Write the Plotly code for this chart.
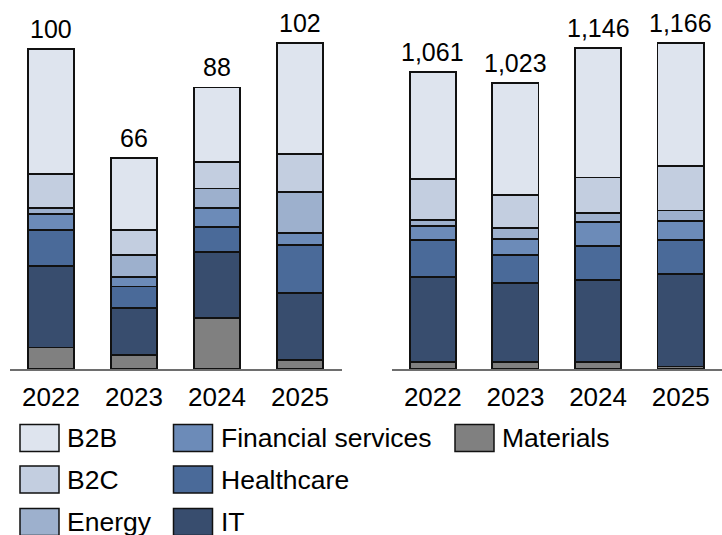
import plotly.graph_objects as go

# Years shown on both panels
years = ["2022", "2023", "2024", "2025"]

# Sector names, listed bottom-to-top of each stack
sectors = ["Materials", "IT", "Healthcare", "Financial services", "Energy", "B2C", "B2B"]

# Left panel: values by sector per year
left_materials = [6.7, 4.5, 16.0, 2.8]
left_it = [25.5, 14.5, 20.5, 21.0]
left_healthcare = [11.2, 6.8, 7.9, 14.9]
left_financial = [5.0, 2.9, 5.8, 3.7]
left_energy = [1.8, 7.0, 6.2, 12.8]
left_b2c = [10.7, 7.7, 8.4, 11.9]
left_b2b = [39.1, 22.6, 23.2, 34.9]

# Right panel: values by sector per year
right_materials = [25, 25, 25, 9]
right_it = [305, 282, 293, 331]
right_healthcare = [131, 101, 122, 121]
right_financial = [50, 56, 86, 68]
right_energy = [22, 41, 32, 37]
right_b2c = [145, 117, 126, 160]
right_b2b = [383, 401, 462, 440]

colors = {
    "B2B": "#dee4ee",
    "B2C": "#c3cee0",
    "Energy": "#9db0cd",
    "Financial services": "#6c8bb8",
    "Healthcare": "#4a6a99",
    "IT": "#384d6e",
    "Materials": "#808080",
}

left_series = [left_materials, left_it, left_healthcare, left_financial,
               left_energy, left_b2c, left_b2b]
right_series = [right_materials, right_it, right_healthcare, right_financial,
                right_energy, right_b2c, right_b2b]

W, H = 722, 535
FONT = "Liberation Sans, Arial, sans-serif"


def px_x(p):
    return p / W


def px_y(p):
    return 1 - p / H


fig = go.Figure()

for name, lv, rv in zip(sectors, left_series, right_series):
    for xa, ya, vals in (("x", "y", lv), ("x2", "y2", rv)):
        fig.add_trace(go.Bar(
            x=years, y=vals, xaxis=xa, yaxis=ya, name=name,
            width=[0.56] * len(years),
            marker=dict(color=colors[name], line=dict(color="#111111", width=1.8)),
            showlegend=False,
        ))

left_totals = [round(sum(v), 1) for v in zip(*left_series)]
right_totals = [round(sum(v), 1) for v in zip(*right_series)]

# Total labels above each stack (x given as category index)
for xref, yref, totals in (("x", "y", left_totals), ("x2", "y2", right_totals)):
    for idx, tot in enumerate(totals):
        fig.add_annotation(
            x=idx, y=tot, xref=xref, yref=yref,
            text=f"{tot:,.0f}", showarrow=False,
            xanchor="center", yanchor="bottom", yshift=4,
            font=dict(family=FONT, size=25, color="#000000"),
        )

# Headroom above the tallest stack
headroom = 1.1305
axis_common = dict(
    type="category", categoryorder="array", categoryarray=years,
    range=[-0.5, len(years) - 0.5], autorange=False,
    showgrid=False, zeroline=False, showline=True,
    linecolor="#6e6e6e", linewidth=1.5, ticks="",
    ticklabelstandoff=4,
    tickfont=dict(family=FONT, size=26, color="#000000"),
)
yaxis_common = dict(visible=False, showgrid=False, zeroline=False,
                    autorange=False, domain=[px_y(369), 1])

fig.update_layout(
    width=W, height=H, autosize=False,
    margin=dict(l=0, r=0, t=0, b=0),
    paper_bgcolor="white", plot_bgcolor="white",
    barmode="stack",
    font=dict(family=FONT, size=25, color="#000000"),
    xaxis=dict(domain=[px_x(9.5), px_x(341.5)], anchor="y", **axis_common),
    xaxis2=dict(domain=[px_x(391.5), 1.0], anchor="y2", **axis_common),
    yaxis=dict(range=[0, max(left_totals) * headroom], anchor="x", **yaxis_common),
    yaxis2=dict(range=[0, max(right_totals) * headroom], anchor="x2", **yaxis_common),
)

# Legend laid out in columns: swatch box + label
legend_columns = [
    (20, ["B2B", "B2C", "Energy"]),
    (173.5, ["Financial services", "Healthcare", "IT"]),
    (455, ["Materials"]),
]
row_tops = [424.5, 466, 508.5]
sw_w, sw_h = 39, 27
for left_px, names in legend_columns:
    for name, top in zip(names, row_tops):
        fig.add_shape(
            type="rect", xref="paper", yref="paper",
            x0=px_x(left_px), x1=px_x(left_px + sw_w),
            y0=px_y(top + sw_h), y1=px_y(top),
            fillcolor=colors[name], line=dict(color="#111111", width=1.5),
        )
        fig.add_annotation(
            x=px_x(left_px + sw_w + 6), y=px_y(top + sw_h / 2),
            xref="paper", yref="paper", xanchor="left", yanchor="middle",
            text=name, showarrow=False,
            font=dict(family=FONT, size=26.5, color="#000000"),
        )

fig.write_html("out.html")
